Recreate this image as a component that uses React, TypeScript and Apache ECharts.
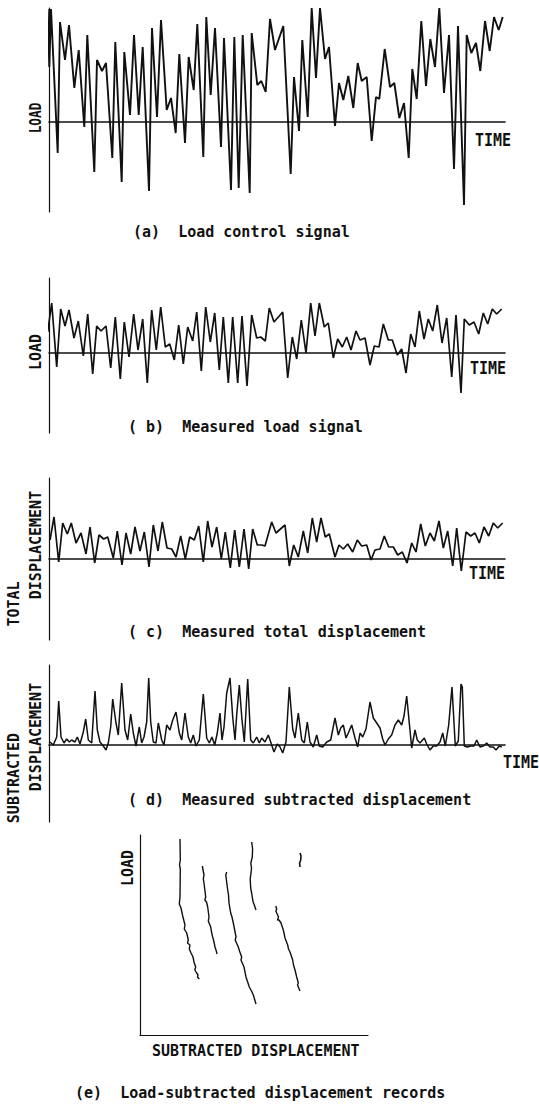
import React, { useEffect, useRef } from "react";
import * as echarts from "echarts";

// (a) Load control signal: [time, load]
const loadControl: [number, number][] = [
  [-3, 82], [-1.3, 113], [0.3, 55], [2, 113], [8.7, -31], [11, 100], [16, 62], [20, 97], [25.3, 34], [29.7, 72],
  [35.3, -5], [38.3, 87], [45.3, -50], [48, 62], [53, 51], [57, 59], [63.3, -36], [66.3, 80], [72.7, -60], [75.3, 70],
  [81, 7], [85, 87], [89.7, 7], [93.7, 75], [100, -69], [103, 94], [108, 5], [112, 102], [117.7, 12], [122, 24],
  [126.7, -11], [130.3, 68], [136, -21], [139.7, 65], [144.7, 32], [148.3, 98], [154.3, -35], [157.3, 105], [161.7, 27], [166, 94],
  [172, -25], [175, 84], [182, -68], [185.3, 85], [189.7, -66], [193.7, 87], [200.7, -71], [202.7, 89], [208.3, 37], [212.3, 41],
  [216.7, 30], [221, 103], [226, 72], [234.3, 96], [241.7, -52], [245, 45], [250, -9], [253.3, 82], [258.7, 5], [262.7, 114],
  [267, 44], [271, 114], [276, 63], [280, 75], [286, -4], [290, 39], [294.3, 22], [299.3, 46], [304.3, 14], [308.7, 59],
  [312.7, 41], [317.7, 45], [322.7, -19], [327, 25], [330.3, 23], [335.7, 73], [341, 35], [345.3, 39], [350.3, 4], [355, 19],
  [359.7, -36], [363.3, 53], [367.7, 23], [372.3, 101], [377, 36], [381.3, 83], [386, 55], [390.3, 114], [395, 29], [400, 87],
  [405, -47], [409, 96], [415, -83], [417.7, 87], [422.3, 69], [427, 79], [431.3, 51], [436, 101], [440.7, 71], [445, 105],
  [449.7, 92], [453.7, 105],
];

// (b) Measured load signal
const measuredLoad: [number, number][] = [
  [-1.3, 21], [2.7, 50], [7.7, -14], [11.7, 44], [16, 27], [20, 43], [25, 15], [29.3, 32], [34.3, -3], [38.7, 39],
  [43.7, -21], [47.7, 27], [52, 22], [57, 27], [61.7, -15], [66.3, 36], [71.3, -26], [75.3, 31], [80, -4], [84.7, 39],
  [89, 3], [93.7, 34], [98.3, -30], [102.7, 43], [107.3, 3], [111.7, 46], [116.3, 6], [120.7, 9], [125.3, -7], [129.7, 28],
  [134.3, -11], [138.7, 26], [143.7, 12], [147.7, 41], [152.3, -18], [156.7, 46], [161.3, 11], [165.7, 40], [170.3, -17], [174.3, 36],
  [179.3, -30], [183.7, 36], [188.7, -30], [193, 37], [198, -33], [202.7, 38], [207.7, 15], [211.7, 16], [216.3, 12], [220.3, 45],
  [225, 31], [233.7, 41], [238.7, -25], [243.3, 16], [247.7, -6], [252.3, 33], [257, 0], [261.7, 50], [266, 17], [270.3, 50],
  [275.3, 26], [279.3, 30], [284.3, -5], [288.7, 14], [293.3, 6], [297.7, 16], [302, 3], [307, 22], [311, 13], [316, 15],
  [321, -12], [325.3, 7], [330, 6], [334.3, 29], [339.3, 13], [343.3, 13], [348.3, -2], [352.7, 4], [357, -20], [361.7, 19],
  [366, 6], [370.3, 42], [375, 14], [379.3, 34], [383.7, 22], [388.3, 48], [393, 10], [397.7, 35], [402.7, -24], [407, 38],
  [412, -40], [415.3, 34], [420.3, 28], [425, 31], [429.7, 19], [434.3, 40], [438.7, 29], [443.3, 44], [447.7, 39], [452.7, 44],
];

// (c) Measured total displacement
const totalDisplacement: [number, number][] = [
  [1, 19], [5, 42], [9.7, -3], [13.7, 36], [18.3, 25], [22.3, 36], [27, 16], [32, 26], [37, 5], [41, 32],
  [45.7, -4], [50, 24], [54.7, 20], [58.7, 22], [64.3, 1], [68.3, 28], [73, -6], [77, 26], [81.7, 5], [86, 32],
  [91, 8], [95.3, 27], [100, -8], [104.3, 34], [109, 8], [113.3, 37], [118, 11], [122.7, 10], [127, 2], [131.7, 23],
  [136.3, 0], [140.7, 22], [145.3, 19], [149.7, 33], [154.3, -3], [158.7, 38], [163, 12], [167.7, 32], [172.3, 0], [176.3, 27],
  [181.3, -9], [185.7, 29], [190.3, -8], [195, 30], [199.7, -10], [203.7, 30], [208.3, 14], [213, 14], [216, 13], [222.7, 37],
  [227, 26], [236, 34], [240.3, -7], [244.7, 14], [249.3, 2], [254.3, 28], [258.7, 6], [263.3, 41], [267.7, 17], [272, 41],
  [276.3, 22], [280.3, 25], [286, 2], [290, 14], [294.3, 10], [298.7, 15], [303.7, 7], [308.3, 19], [312.7, 13], [317.7, 14],
  [322, -1], [326, 9], [331, 10], [335.3, 23], [339.7, 12], [344.3, 12], [348.7, 4], [353.3, 7], [358, -4], [362.7, 16],
  [367, 7], [371.7, 35], [376.3, 13], [381, 26], [385.3, 18], [390, 38], [394.3, 11], [398.7, 28], [403.7, -7], [407.7, 31],
  [412.3, -12], [417, 27], [421.7, 23], [426, 26], [430.3, 16], [435, 32], [439.7, 23], [444.3, 36], [448.7, 31], [453.7, 36],
];

// (d) Measured subtracted displacement
const subtractedDisplacement: [number, number][] = [
  [1, 3], [4.3, 0], [7.7, 8], [9.7, 44], [12, 8], [15, 2], [17.7, 6], [20.3, 3], [22.7, 5], [26, 3],
  [28.3, 8], [31, 1], [34.3, 13], [36.7, 26], [39.3, 5], [42.7, 2], [46, 54], [48.3, 15], [51, 3], [54.3, -1],
  [57, -5], [59.3, 2], [61.7, 18], [63.7, 46], [67, 22], [69.3, 10], [72.7, 62], [76, 15], [78.7, 5], [81.7, 31],
  [84.3, 12], [87, -1], [90.3, 18], [92.7, 2], [95, 8], [97.7, 23], [99.7, 67], [101.7, 23], [104.3, 3], [107, 2],
  [109.3, 22], [112.7, 5], [115, 0], [117.7, 20], [121, 15], [123.7, 25], [127, 33], [130.3, 12], [132.7, 5], [136, 32],
  [139.3, 8], [141.7, 2], [144.3, 10], [147, -1], [150.3, 5], [154.3, 51], [157.7, 7], [160.3, 2], [163, 8], [165.7, 0],
  [168.3, 12], [171, 32], [173, 5], [175, 18], [177.7, 52], [181, 67], [183.7, 28], [186, 5], [187.7, 30], [190.3, 60],
  [193, 25], [195.3, 3], [198.7, 66], [201.7, 5], [204.3, 2], [207.7, 8], [210.3, 2], [212.7, 7], [216, 3], [219.3, 10],
  [222.7, 0], [225, -7], [228.3, 1], [231, -2], [233.7, -8], [237, 3], [240.3, 58], [243.7, 16], [246, 7], [249.3, 32],
  [252.7, 5], [255.3, 2], [258.3, 23], [261, 3], [264.3, -2], [267.7, 10], [270.3, -1], [273.7, -2], [277.7, 3], [281.7, 5],
  [286, 27], [289.3, 10], [291.7, 17], [294.3, 20], [297, 7], [299.3, 12], [302.7, 20], [306, 7], [308.7, -2], [311, 12],
  [313.7, 8], [317, 16], [321, 43], [324.3, 27], [327.7, 22], [331, 17], [333.7, 6], [336, 0], [339.3, 6], [342.7, 10],
  [346, 20], [349.3, 25], [352.7, 20], [355, 29], [357.7, 49], [360, 25], [362.7, -3], [366, 15], [368.3, 5], [371, 2],
  [375.3, 7], [377.7, 1], [381, -5], [384.3, -1], [387.7, -1], [391, 3], [393.7, 12], [396.3, -1], [399.7, 20], [403, 58],
  [406.3, -1], [409.3, 4], [412, 61], [413.3, 58], [415.3, -1], [418.3, -2], [421.7, -1], [425, -1], [427.7, 5], [431, -2],
  [434.3, -1], [437.7, 2], [441, -2], [444.3, -2], [447, -5], [450.3, -1], [452.7, -2],
];

// (e) Load vs subtracted displacement records: [displacement, load]
const record1: [number, number][] = [
  [40, 196], [40.3, 175], [39.5, 170], [40.3, 166], [40, 138], [39.3, 131], [41, 127], [42.7, 119], [45, 110], [44.3, 106],
  [46.7, 102], [48.3, 95], [47.5, 92], [50, 90], [49.3, 86], [51, 82], [53, 78], [54, 73], [55.7, 68], [54.8, 65],
  [56.7, 62], [58, 60], [57.5, 58], [59.3, 56],
];
const record2: [number, number][] = [
  [62.3, 169], [64, 160], [63.3, 156], [64, 152], [65.7, 138], [64.8, 135], [66.5, 133], [67.7, 128], [69, 118], [68.3, 114],
  [70.7, 108], [71.5, 103], [72.7, 98], [74, 93], [75, 88], [76.3, 84], [77, 81],
];
const record3: [number, number][] = [
  [86.7, 163], [85.8, 160], [87.3, 148], [88.5, 140], [89, 132], [90.7, 122], [92, 118], [93.3, 112], [94.5, 106], [96, 98],
  [95.2, 95], [98.3, 88], [99.5, 84], [101.7, 78], [101, 75], [104, 68], [105, 63], [106, 58], [108, 52], [109.3, 48],
  [111.5, 44], [113.3, 40], [114.8, 35], [116, 31],
];
const record4: [number, number][] = [
  [111.7, 193], [112.6, 186], [112.3, 178], [110.8, 172], [111.5, 167], [111, 162], [110.2, 156], [110.7, 147], [111.8, 141],
  [112.7, 135], [113.5, 132], [114.3, 130], [116, 125],
];
const record5: [number, number][] = [
  [135.7, 129], [136.7, 126], [135.9, 124], [136.7, 122], [138.5, 118], [137.5, 115], [139, 115], [141, 112], [143.3, 105],
  [144.2, 101], [145, 97], [147.7, 90], [148.5, 86], [150, 83], [152.7, 75], [153.5, 70], [155, 65], [156.7, 58], [158.3, 52],
  [157.5, 50], [160, 44],
];
const record6: [number, number][] = [[160, 182], [161, 179], [160.7, 175], [159.6, 172], [160, 168]];

const captions = [
  "(a)  Load control signal",
  "( b)  Measured load signal",
  "( c)  Measured total displacement",
  "( d)  Measured subtracted displacement",
  "(e)  Load-subtracted displacement records",
];

const INK = "#111";
const MONO = '"DejaVu Sans Mono", "Liberation Mono", monospace';

export default function App() {
  const ref = useRef<HTMLDivElement>(null);
  useEffect(() => {
    document.body.style.margin = "0";
    const chart = echarts.init(ref.current!, null, { renderer: "svg" });

    const grids = [
      { left: 49, top: 8, width: 456, height: 204 },
      { left: 49, top: 278, width: 456, height: 155 },
      { left: 49, top: 478, width: 456, height: 162 },
      { left: 49, top: 665, width: 456, height: 157 },
      { left: 140, top: 835, width: 228, height: 200 },
    ];
    const yRanges = [
      [-90, 114],
      [-80, 75],
      [-81, 81],
      [-77, 80],
      [0, 200],
    ];
    const xAxes = grids.map((_, i) => ({
      type: "value",
      gridIndex: i,
      min: 0,
      max: i === 4 ? 228 : 456,
      axisLine: { show: true, onZero: true, lineStyle: { color: INK, width: i === 4 ? 1.2 : 1.6 } },
      axisTick: { show: false },
      axisLabel: { show: false },
      splitLine: { show: false },
    }));
    const yAxes = grids.map((_, i) => ({
      type: "value",
      gridIndex: i,
      min: yRanges[i][0],
      max: yRanges[i][1],
      axisLine: { show: true, onZero: false, lineStyle: { color: INK, width: 1.2 } },
      axisTick: { show: false },
      axisLabel: { show: false },
      splitLine: { show: false },
    }));

    const mk = (data: [number, number][], gi: number, width: number) => ({
      type: "line",
      xAxisIndex: gi,
      yAxisIndex: gi,
      data,
      symbol: "none",
      showSymbol: false,
      clip: false,
      silent: true,
      lineStyle: { color: INK, width },
    });

    const txt = (text: string, x: number, y: number, opts: any = {}) => ({
      type: "text",
      x,
      y,
      rotation: opts.rotation || 0,
      scaleX: opts.scaleX || 1,
      scaleY: opts.scaleY || 1,
      silent: true,
      style: {
        text,
        fill: INK,
        font: `${opts.weight || "bold"} ${opts.size || 15}px ${MONO}`,
        align: opts.align || "left",
        verticalAlign: "middle",
        textAlign: opts.align || "left",
        textVerticalAlign: "middle",
      },
    });
    const V = Math.PI / 2;

    const graphic = [
      // captions
      txt(captions[0], 133, 232, { weight: 600 }),
      txt(captions[1], 128, 427, { weight: 600 }),
      txt(captions[2], 128, 632, { weight: 600 }),
      txt(captions[3], 128, 800, { weight: 600 }),
      txt(captions[4], 75, 1093, { weight: 600 }),
      // TIME labels
      txt("TIME", 475, 140, { scaleY: 1.15 }),
      txt("TIME", 470, 368, { scaleY: 1.15 }),
      txt("TIME", 469, 573, { scaleY: 1.15 }),
      txt("TIME", 503, 762, { scaleY: 1.15 }),
      // vertical axis names
      txt("LOAD", 36, 118, { rotation: V, align: "center", scaleX: 0.85 }),
      txt("LOAD", 36, 352, { rotation: V, align: "center" }),
      txt("DISPLACEMENT", 36, 545, { rotation: V, align: "center" }),
      txt("TOTAL", 14, 604, { rotation: V, align: "center" }),
      txt("DISPLACEMENT", 36, 737, { rotation: V, align: "center" }),
      txt("SUBTRACTED", 14, 778, { rotation: V, align: "center" }),
      txt("LOAD", 128, 868, { rotation: V, align: "center" }),
      txt("SUBTRACTED DISPLACEMENT", 152, 1050, { scaleY: 1.1 }),
    ];

    chart.setOption({
      animation: false,
      backgroundColor: "#fff",
      grid: grids,
      xAxis: xAxes,
      yAxis: yAxes,
      series: [
        mk(loadControl, 0, 1.9),
        mk(measuredLoad, 1, 1.7),
        mk(totalDisplacement, 2, 1.7),
        mk(subtractedDisplacement, 3, 1.5),
        mk(record1, 4, 1.4),
        mk(record2, 4, 1.4),
        mk(record3, 4, 1.4),
        mk(record4, 4, 1.4),
        mk(record5, 4, 1.4),
        mk(record6, 4, 1.6),
      ],
      graphic,
    });
    return () => chart.dispose();
  }, []);
  return <div ref={ref} style={{ width: 539, height: 1106, background: "#fff" }} />;
}
